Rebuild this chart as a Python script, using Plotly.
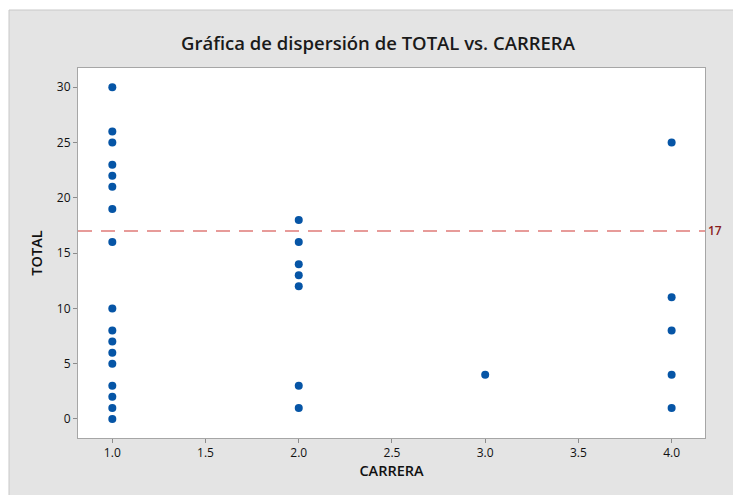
import plotly.graph_objects as go

# CARRERA / TOTAL observations
carrera = [1, 1, 1, 1, 1, 1, 1, 1, 1, 1, 1, 1, 1, 1, 1, 1, 1,
           2, 2, 2, 2, 2, 2, 2,
           3,
           4, 4, 4, 4, 4]
total = [30, 26, 25, 23, 22, 21, 19, 16, 10, 8, 7, 6, 5, 3, 2, 1, 0,
         18, 16, 14, 13, 12, 3, 1,
         4,
         25, 11, 8, 4, 1]

ref_value = 17
x_ticks = [1.0, 1.5, 2.0, 2.5, 3.0, 3.5, 4.0]
x_tick_text = ["1.0", "1.5", "2.0", "2.5", "3.0", "3.5", "4.0"]
y_ticks = [0, 5, 10, 15, 20, 25, 30]

W, H = 733, 495
L, R, T, B = 78, 28, 68, 57
pw, ph = W - L - R, H - T - B

def px_x(p):
    return (p - L) / pw

def px_y(p):
    return (H - B - p) / ph

font = "Open Sans, Noto Sans, sans-serif"

fig = go.Figure()
fig.add_trace(go.Scatter(
    x=carrera, y=total, mode="markers",
    marker=dict(color="#0655a6", size=8, line=dict(width=0)),
    hoverinfo="x+y", showlegend=False,
))

# reference line
fig.add_shape(type="line", xref="paper", yref="y", x0=0, x1=1,
              y0=ref_value, y1=ref_value,
              line=dict(color="#e07b78", width=1.6, dash="14px,9px"))
fig.add_annotation(xref="paper", yref="y", x=1.0, y=ref_value,
                   text=str(ref_value), showarrow=False,
                   xanchor="left", xshift=1,
                   font=dict(family=font, size=12, color="#8a1c1c", weight=600))

# grey panel and white data region
fig.add_shape(type="rect", xref="paper", yref="paper", layer="below",
              x0=px_x(9), x1=px_x(760), y0=px_y(10), y1=px_y(520),
              fillcolor="#e4e4e4", line=dict(color="#c8c8c8", width=1))
fig.add_shape(type="rect", xref="paper", yref="paper", layer="below",
              x0=0, x1=1, y0=0, y1=1,
              fillcolor="white", line=dict(width=0))

axis_common = dict(
    showgrid=False, zeroline=False,
    showline=True, linecolor="#a6a6a6", linewidth=1, mirror=True,
    ticks="outside", ticklen=4, tickcolor="#8c8c8c", tickwidth=1,
    tickfont=dict(family=font, size=12, color="#111111"),
)

fig.update_layout(
    width=W, height=H,
    margin=dict(l=L, r=R, t=T, b=B),
    paper_bgcolor="white", plot_bgcolor="rgba(0,0,0,0)",
    title=dict(text="Gráfica de dispersión de TOTAL vs. CARRERA",
               x=378 / W, xref="container",
               xanchor="center", y=1 - 44 / H, yanchor="middle",
               font=dict(family=font, size=18.5, color="#1a1a1a", weight=600)),
    xaxis=dict(range=[0.816, 4.179], tickvals=x_ticks, ticktext=x_tick_text,
               title=dict(text="CARRERA", standoff=4,
                          font=dict(family=font, size=14.5, color="#111111",
                                    weight=600)),
               **axis_common),
    yaxis=dict(range=[-1.72, 31.74], tickvals=y_ticks,
               title=dict(text="TOTAL", standoff=10,
                          font=dict(family=font, size=14.5, color="#111111",
                                    weight=600)),
               **axis_common),
)

fig.write_html("out.html")
